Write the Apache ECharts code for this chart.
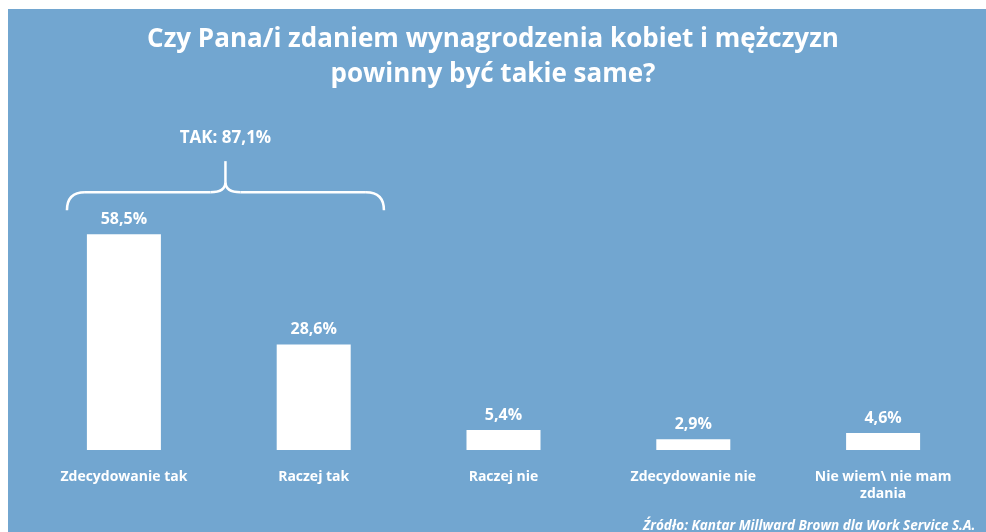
<!DOCTYPE html>
<html>
<head>
<meta charset="utf-8">
<script src="https://cdn.jsdelivr.net/npm/echarts@6/dist/echarts.min.js"></script>
<style>
  html, body { margin: 0; padding: 0; background: #ffffff; }
  #chart { width: 986px; height: 532px; }
</style>
</head>
<body>
<div id="chart"></div>
<script>
var categories = ['Zdecydowanie tak', 'Raczej tak', 'Raczej nie', 'Zdecydowanie nie', 'Nie wiem\\ nie mam\nzdania'];
var values = [58.5, 28.6, 5.4, 2.9, 4.6];
var takLabel = 'TAK: 87,1%';
var sourceText = 'Źródło: Kantar Millward Brown dla Work Service S.A.';

var bg = '#72a6d0';
var font = '"Open Sans", sans-serif';

function fmt(v) {
  return v.toFixed(1).replace('.', ',') + '%';
}

var chart = echarts.init(document.getElementById('chart'));

var option = {
  animation: false,
  backgroundColor: '#ffffff',
  title: {
    text: 'Czy Pana/i zdaniem wynagrodzenia kobiet i mężczyzn\npowinny być takie same?',
    left: 'center',
    top: 17,
    textStyle: {
      color: '#ffffff',
      fontFamily: font,
      fontWeight: 'bold',
      fontSize: 26,
      lineHeight: 35
    }
  },
  grid: {
    left: 29,
    right: 8,
    top: 81,
    bottom: 82
  },
  xAxis: {
    type: 'category',
    data: categories,
    axisLine: { show: false },
    axisTick: { show: false },
    axisLabel: {
      color: '#ffffff',
      fontFamily: font,
      fontWeight: 'bold',
      fontSize: 14,
      lineHeight: 17,
      margin: 19,
      interval: 0
    }
  },
  yAxis: {
    type: 'value',
    min: 0,
    max: 100,
    show: false,
    splitLine: { show: false }
  },
  series: [{
    type: 'bar',
    data: values,
    barWidth: 74,
    itemStyle: { color: '#ffffff' },
    label: {
      show: true,
      position: 'top',
      distance: 7,
      color: '#ffffff',
      fontFamily: font,
      fontWeight: 'bold',
      fontSize: 16,
      formatter: function (p) { return fmt(p.value); }
    }
  }]
};

chart.setOption(option);

// brace over the first two categories, placed from the axis scales
var p0 = chart.convertToPixel({ gridIndex: 0 }, [0, 0]);
var p1 = chart.convertToPixel({ gridIndex: 0 }, [1, 0]);
var band = p1[0] - p0[0];
var xl = p0[0] - band * 0.3;
var xr = p1[0] + band * 0.37;
var xm = (xl + xr) / 2;
var yEnd = chart.convertToPixel({ gridIndex: 0 }, [0, 65])[1];
var yBar = yEnd - 18;
var yTip = yBar - 31;

var braceStyle = { stroke: '#ffffff', lineWidth: 2.5, fill: 'none' };
function curve(x1, y1, cx, cy, x2, y2) {
  return {
    type: 'bezierCurve', silent: true,
    shape: { x1: x1, y1: y1, cpx1: cx, cpy1: cy, x2: x2, y2: y2 },
    style: braceStyle
  };
}
function seg(x1, y1, x2, y2) {
  return {
    type: 'line', silent: true,
    shape: { x1: x1, y1: y1, x2: x2, y2: y2 },
    style: braceStyle
  };
}

chart.setOption({
  graphic: [
    {
      type: 'rect',
      z: -10,
      silent: true,
      shape: { x: 8, y: 9, width: 986, height: 532 },
      style: { fill: bg }
    },
    curve(xl, yEnd, xl, yBar, xl + 18, yBar),
    seg(xl + 18, yBar, xm - 15, yBar),
    curve(xm - 15, yBar, xm, yBar, xm, yBar - 10),
    seg(xm, yBar - 10, xm, yTip),
    curve(xm, yBar - 10, xm, yBar, xm + 15, yBar),
    seg(xm + 15, yBar, xr - 18, yBar),
    curve(xr - 18, yBar, xr, yBar, xr, yEnd),
    {
      type: 'text',
      silent: true,
      x: xm,
      y: yTip - 23,
      style: {
        text: takLabel,
        fill: '#ffffff',
        font: 'bold 17px ' + font,
        align: 'center',
        verticalAlign: 'middle'
      }
    },
    {
      type: 'text',
      silent: true,
      x: 643,
      y: 526,
      style: {
        text: sourceText,
        fill: '#ffffff',
        font: 'italic bold 13.5px ' + font,
        align: 'left',
        verticalAlign: 'middle'
      }
    }
  ]
});
</script>
</body>
</html>
